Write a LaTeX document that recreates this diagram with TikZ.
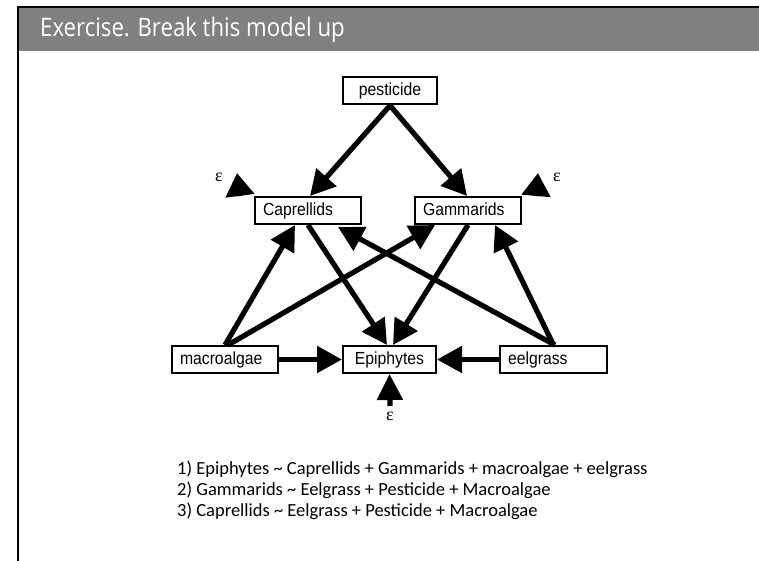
\documentclass[tikz,border=0pt]{standalone}
\usepackage{fontspec}
\setmainfont{Liberation Sans}
\newfontfamily\boxfont[FakeStretch=0.9]{Liberation Sans}
\newfontfamily\titlefont[FakeStretch=0.87]{Open Sans}
\newfontfamily\eqfont{Carlito}
\newfontfamily\epsfont{Liberation Serif}
\usetikzlibrary{arrows.meta}
\definecolor{bargray}{HTML}{808080}
\begin{document}
\begin{tikzpicture}[x=1pt,y=-1pt,
  box/.style={draw=black,line width=2pt,fill=white,minimum height=27pt,inner sep=0pt,
    text height=12.5pt,text depth=3.5pt,
    font=\boxfont\fontsize{17.5}{18}\selectfont},
  lbox/.style={box,minimum width=106pt,text width=90pt,align=left},
  conn/.style={line width=5.2pt,-{Triangle[length=25pt,width=26pt]}},
  errarr/.style={line width=5.2pt,-{Triangle[length=23pt,width=28pt]}},
  epslabel/.style={font=\epsfont\fontsize{18}{18}\selectfont,inner sep=0pt}]
\useasboundingbox (0,0) rectangle (759,561);
% frame and title bar
\fill[bargray] (19,8) rectangle (759,51);
\draw[line width=2.5pt] (18,561) -- (18,7) -- (759,7);
\node[anchor=base west,text=white,inner sep=0pt,font=\titlefont\fontsize{25.5}{26}\selectfont] (title) at (40,37) {Exercise. Break this model up};
% nodes
\node[box,minimum width=94pt] (P) at (390,91) {pesticide};
\node[lbox] (C) at (308,210.5) {Caprellids};
\node[lbox] (G) at (468,210.5) {Gammarids};
\node[lbox] (M) at (225,359.5) {macroalgae};
\node[box,minimum width=93pt] (E) at (389.5,359.5) {Epiphytes};
\node[box,minimum width=107pt,text width=91pt,align=left] (L) at (553.5,359.5) {eelgrass};
% error terms
\coordinate (eC) at (237,173);
\coordinate (eG) at (538,173);
\coordinate (eE) at (390,406);
\node[epslabel] (epsC) at (219,177) {ε};
\node[epslabel] (epsG) at (557,177) {ε};
\node[epslabel] (epsE) at (390,416) {ε};
% connectors
\draw[conn] (P.south) -- ([xshift=2pt]C.north);
\draw[conn] (P.south) -- ([xshift=-1pt]G.north);
\draw[conn] (M.north) -- ([xshift=-13pt]C.south);
\draw[conn] ([xshift=3pt]M.north) -- ([xshift=-33pt]G.south);
\draw[conn] (C.south) -- ([xshift=-2.5pt]E.north);
\draw[conn] (G.south) -- ([xshift=3.5pt]E.north);
\draw[conn] ([xshift=1.5pt]L.north) -- ([xshift=30pt,yshift=-2pt]C.south);
\draw[conn] (L.north) -- ([xshift=27pt]G.south);
\draw[conn] (M.east) -- (E.west);
\draw[conn] (L.west) -- (E.east);
\draw[errarr] ([xshift=-14pt]C.north west) -- (eC);
\draw[errarr] ([xshift=14pt]G.north east) -- (eG);
\draw[line width=5.2pt,-{Triangle[length=26pt,width=25pt]}] (eE) -- (E.south);
% equations
\node[anchor=north west,inner sep=0pt,align=left,font=\eqfont\fontsize{18.5}{20.7}\selectfont] (eqs) at (177,461)
{1) Epiphytes \textasciitilde{} Caprellids + Gammarids + macroalgae + eelgrass\\
2) Gammarids \textasciitilde{} Eelgrass + Pesticide + Macroalgae\\
3) Caprellids \textasciitilde{} Eelgrass + Pesticide + Macroalgae};
\end{tikzpicture}
\end{document}
